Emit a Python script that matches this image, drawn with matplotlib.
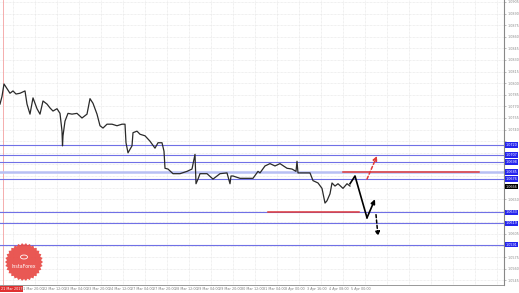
import numpy as np
import matplotlib
matplotlib.use("Agg")
import matplotlib.pyplot as plt
from matplotlib.patches import Polygon, Circle

# ---------------- data ----------------
bar_x = [0, 2, 4, 7, 10, 13, 16, 20, 25, 27, 30, 33, 37, 40, 43, 47, 50, 53, 57, 60,
         62, 62.5, 63, 65, 68, 72, 77, 82, 87, 90, 93, 97, 100, 103, 107, 112, 117, 122,
         125, 126, 128, 132, 133, 137, 140, 145, 150, 155, 158, 162, 164, 165, 168, 173,
         180, 187, 192, 195, 196, 198, 200, 207, 213, 220, 227, 230, 231, 233, 240, 247,
         253, 258, 260, 265, 270, 275, 280, 287, 292, 296, 297, 298, 303, 310, 313, 318,
         322, 325, 327, 330, 332, 335, 338, 343, 347, 350]
price = [1.0773, 1.0783, 1.0799, 1.0793, 1.0787, 1.0790, 1.0786, 1.0787, 1.0790, 1.0773,
         1.0760, 1.0781, 1.0767, 1.0760, 1.0777, 1.0773, 1.0768, 1.0764, 1.0767, 1.0761,
         1.0738, 1.0719, 1.0732, 1.0751, 1.0761, 1.0760, 1.0761, 1.0755, 1.0760, 1.0780,
         1.0774, 1.0760, 1.0745, 1.0742, 1.0747, 1.0747, 1.0745, 1.0747, 1.0747, 1.0723,
         1.0710, 1.0719, 1.0736, 1.0738, 1.0734, 1.0732, 1.0725, 1.0716, 1.0723, 1.0723,
         1.0712, 1.0690, 1.0689, 1.0683, 1.0683, 1.0686, 1.0689, 1.0708, 1.0670, 1.0676,
         1.0683, 1.0683, 1.0676, 1.0683, 1.0684, 1.0670, 1.0680, 1.0680, 1.0677, 1.0677,
         1.0677, 1.0686, 1.0684, 1.0693, 1.0696, 1.0693, 1.0696, 1.0690, 1.0689, 1.0686,
         1.0699, 1.0684, 1.0684, 1.0684, 1.0674, 1.0671, 1.0664, 1.0645, 1.0648, 1.0657,
         1.0671, 1.0667, 1.0670, 1.0664, 1.0670, 1.0667]

levels = [1.0720, 1.0707, 1.0698, 1.0685, 1.0676, 1.0633, 1.0619, 1.0591]
current_price = 1.0666

red_levels = [1.0685, 1.0633]
red_start = [343, 268]
red_end = [479, 359]

path_x = [350, 355, 367, 375]
path_y = [1.0670, 1.0680, 1.0626, 1.0650]
down_x = [376, 378]
down_y = [1.0630, 1.0602]
up_x = [367, 377]
up_y = [1.0676, 1.0706]

tick_top = 1.0905
tick_step = 0.0015
n_ticks = 25

x_labels = ["21 Mar 20:00", "22 Mar 12:00", "23 Mar 04:00", "23 Mar 20:00", "24 Mar 12:00",
            "27 Mar 04:00", "27 Mar 20:00", "28 Mar 12:00", "29 Mar 04:00", "29 Mar 20:00",
            "30 Mar 12:00", "31 Mar 04:00", "3 Apr 00:00", "3 Apr 16:00", "4 Apr 08:00",
            "5 Apr 00:00"]
first_label = "21 Mar 2017"

# ---------------- figure ----------------
W, H = 519, 293
fig = plt.figure(figsize=(W / 100, H / 100), dpi=100)
fig.patch.set_facecolor("white")
plot_w, plot_h = 504, 285
ax = fig.add_axes([0, (H - plot_h) / H, plot_w / W, plot_h / H])
ax.set_facecolor("white")

k = tick_step / 11.6
ymax = tick_top + 2 * k
ymin = tick_top - (plot_h - 2) * k
ax.set_xlim(0, plot_w)
ax.set_ylim(ymin, ymax)

# grid
grid_x = [13 + 22 * i for i in range(23)]
for gx in grid_x:
    ax.axvline(gx, color="#e2e2e2", lw=0.5, ls=(0, (1, 1)), zorder=0)
ticks = [tick_top - tick_step * i for i in range(n_ticks)]
for t in ticks:
    ax.axhline(t, color="#e2e2e2", lw=0.5, ls=(0, (1, 1)), zorder=0)

# left red marker line
ax.axvline(3, color="#f4a0a0", lw=0.6, zorder=1)

# levels
for lv in levels:
    if abs(lv - 1.0685) < 1e-6:
        ax.axhline(lv, color="#b8c0f4", lw=1.8, zorder=2)
    else:
        ax.axhline(lv, color="#7070e6", lw=0.8, zorder=2)

# price line
ax.plot(bar_x, price, color="#2a2a2a", lw=0.9, zorder=4)

# red levels
for lv, s, e in zip(red_levels, red_start, red_end):
    ax.plot([s, e], [lv, lv], color="#e03a3a", lw=1.1, zorder=3)

# arrows
head = "-|>,head_length=0.25,head_width=0.12"
ax.plot(path_x[:-1], path_y[:-1], color="black", lw=1.2, zorder=5)
ax.annotate("", xy=(path_x[-1], path_y[-1]), xytext=(path_x[-2], path_y[-2]),
            arrowprops=dict(arrowstyle=head, color="black", lw=1.2, shrinkA=0, shrinkB=0),
            zorder=5)
ax.annotate("", xy=(down_x[1], down_y[1]), xytext=(down_x[0], down_y[0]),
            arrowprops=dict(arrowstyle=head, color="black", lw=1.1, ls=(0, (2, 1.5)),
                            shrinkA=0, shrinkB=0), zorder=5)
ax.annotate("", xy=(up_x[1], up_y[1]), xytext=(up_x[0], up_y[0]),
            arrowprops=dict(arrowstyle=head, color="#e03a3a", lw=1.1, ls=(0, (2, 1.5)),
                            shrinkA=0, shrinkB=0), zorder=5)

# axes styling
for s in ["top", "left"]:
    ax.spines[s].set_visible(False)
ax.spines["right"].set_color("#888888")
ax.spines["right"].set_linewidth(0.8)
ax.spines["bottom"].set_color("#888888")
ax.spines["bottom"].set_linewidth(0.6)
ax.yaxis.tick_right()
ax.set_yticks(ticks)
marks = levels + [current_price]
tick_labels = []
for t in ticks:
    near = any(abs(t - m) < 0.00055 for m in marks)
    tick_labels.append("" if near else f"{t:.4f}")
ax.set_yticklabels(tick_labels, fontsize=2.4, color="#8a8a8a")
ax.tick_params(axis="y", length=1.2, width=0.4, pad=1.2, colors="#8a8a8a")
ax.set_xticks([])

# level labels on right
for lv in levels:
    ax.text(plot_w + 1.3, lv, f"{lv:.4f}", fontsize=2.4, color="white", va="center", ha="left",
            bbox=dict(boxstyle="square,pad=0.2", fc="#2424ee", ec="none"),
            clip_on=False, zorder=10)
ax.text(plot_w + 1.3, current_price, f"{current_price:.4f}", fontsize=2.4, color="white",
        va="center", ha="left", bbox=dict(boxstyle="square,pad=0.2", fc="black", ec="none"),
        clip_on=False, zorder=10)

# x labels
lab_y = (H - plot_h - 4) / H
fig.text(1 / W, lab_y, first_label, fontsize=2.4, color="white", va="center", ha="left",
         bbox=dict(boxstyle="square,pad=0.2", fc="#e03030", ec="none"))
for i, lab in enumerate(x_labels):
    gx = grid_x[i + 1] - 14
    fig.text(gx / W, lab_y, lab, fontsize=2.4, color="#808080", va="center", ha="left")

# watermark (InstaForex badge)
cx, cy, r = 24 / W, 1 - 262 / H, 19
n = 30
ang = np.linspace(0, 2 * np.pi, 2 * n, endpoint=False)
rad = np.where(np.arange(2 * n) % 2 == 0, r, r * 0.9)
px = (24 + rad * np.cos(ang)) / W
py = (1 - 262 / H) + rad * np.sin(ang) / H
fig.patches.append(Polygon(np.column_stack([px, py]), closed=True, transform=fig.transFigure,
                           fc="#e84a45", ec="none", alpha=0.92, zorder=20))
fig.text(cx, cy - 5 / H, "InstaForex", fontsize=3.4, color="white", ha="center", va="center",
         zorder=21)
fig.patches.append(Circle((cx, cy + 5 / H), 3.5 / W, transform=fig.transFigure, fc="none",
                          ec="white", lw=0.6, zorder=21))

fig.savefig("out.png", dpi=100)
